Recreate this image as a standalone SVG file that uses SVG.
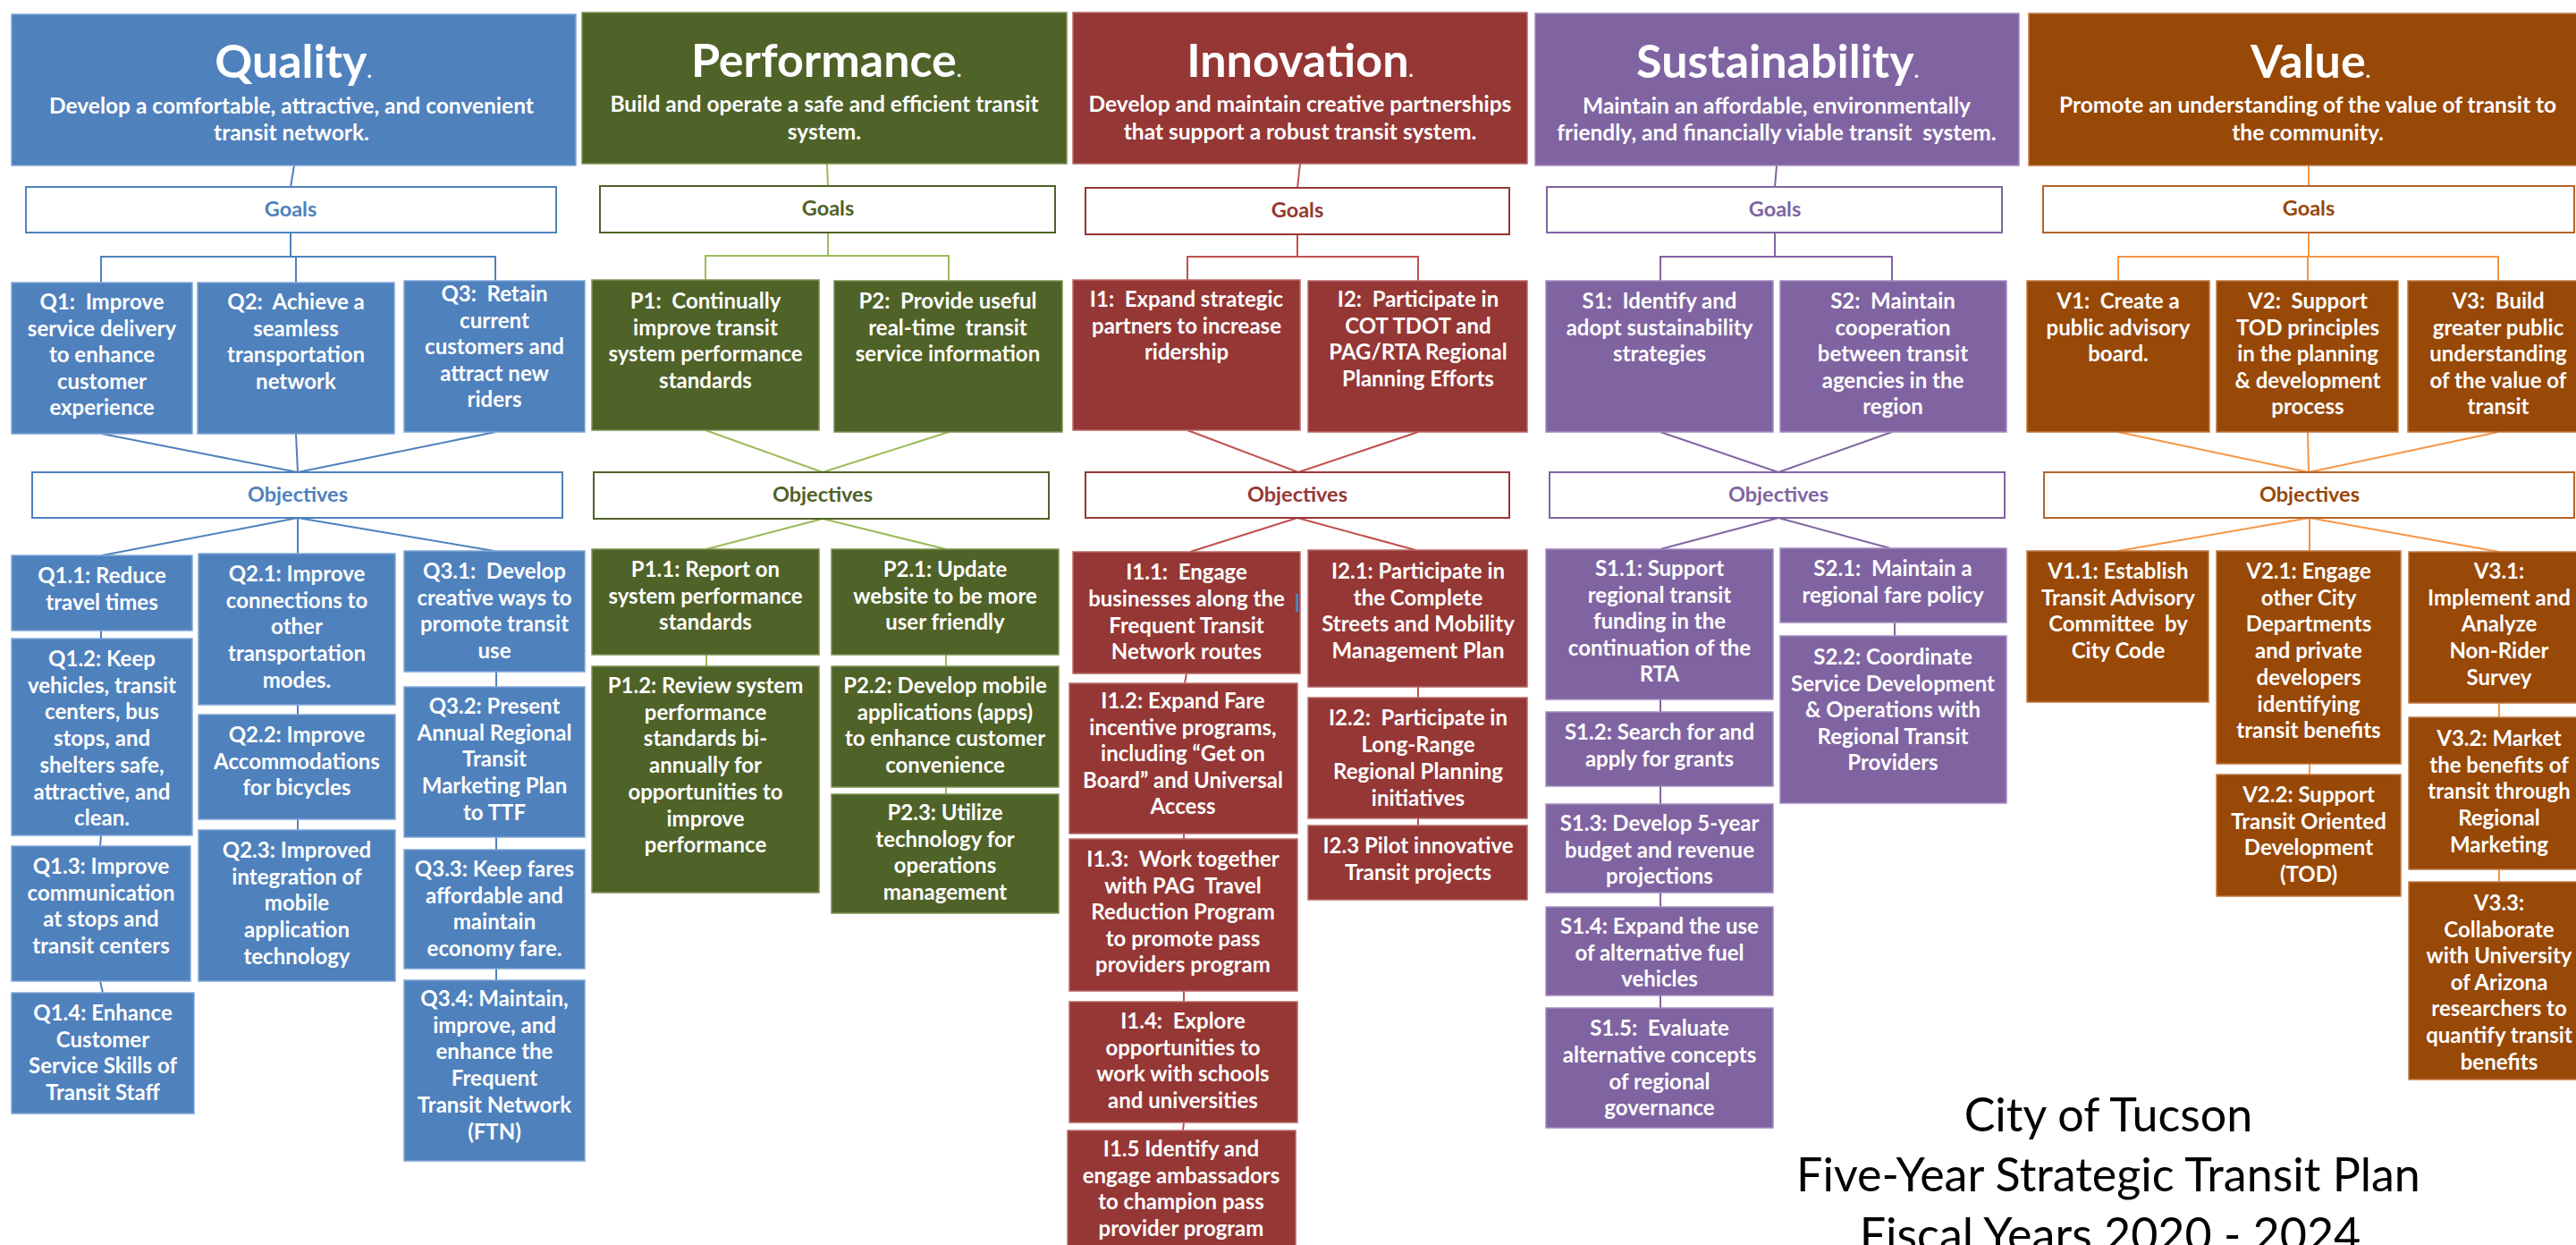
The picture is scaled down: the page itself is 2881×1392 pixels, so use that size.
<svg xmlns="http://www.w3.org/2000/svg" width="2881" height="1392" viewBox="0 0 2881 1392">
<style>
text{font-family:Lato,"Open Sans","Liberation Sans",sans-serif;font-weight:bold;text-anchor:middle}
.ttl{font-size:52px;fill:#fff}
.dot{font-size:22px}
.sub{font-size:24.5px;fill:#fff}
.b{font-size:24px;fill:#fff}
.lbl{font-size:23.5px}
.lw{fill:#fff;stroke-width:2}
.q{fill:#4F81BD;stroke:#7FA6D6;stroke-width:1.5}
.p{fill:#4F6228;stroke:#7E9152;stroke-width:1.5}
.i{fill:#953735;stroke:#B86A68;stroke-width:1.5}
.s{fill:#8064A2;stroke:#A38CC0;stroke-width:1.5}
.v{fill:#984807;stroke:#C07A45;stroke-width:1.5}
.conn path{fill:none;stroke-width:2}
.foot{font-family:Lato,"Liberation Sans",sans-serif;font-weight:normal;font-size:52px;fill:#000}
</style>

<g id="connectors" class="conn">
<g stroke="#4F81BD">
<path d="M329 185 L325 209"/><path d="M325 260 V287"/><path d="M113 316 V287 H554 V316"/><path d="M331 287 V316"/>
<path d="M114 485 L333 528"/><path d="M331 485 L333 528"/><path d="M554 483 L333 528"/>
<path d="M333 579 L114 621"/><path d="M333 579 V619"/><path d="M333 579 L553 616"/>
<path d="M113 705 V714"/><path d="M113 934 L112 946"/><path d="M112 1097 L115 1110"/>
<path d="M333 788 V799"/><path d="M333 916 V928"/>
<path d="M555 751 V768"/><path d="M555 936 V950"/><path d="M555 1083 V1096"/>
</g>
<g stroke="#9BBB59">
<path d="M925 183 L926 208"/><path d="M926 260 V286"/><path d="M789 313 V286 H1061 V314"/>
<path d="M789 481 L920 528"/><path d="M1061 483 L920 528"/>
<path d="M920 580 L790 614"/><path d="M920 580 L1058 614"/>
<path d="M790 732 V745"/><path d="M1058 732 V745"/><path d="M1058 880 V888"/>
</g>
<g stroke="#C0504D">
<path d="M1454 183 L1451 210"/><path d="M1451 262 V287"/><path d="M1328 313 V287 H1586 V314"/>
<path d="M1328 481 L1452 528"/><path d="M1586 483 L1452 528"/>
<path d="M1451 579 L1331 617"/><path d="M1451 579 L1583 615"/>
<path d="M1327 753 L1325 764"/><path d="M1324 932 V938"/><path d="M1324 1108 V1120"/><path d="M1324 1255 L1323 1264"/>
<path d="M1586 768 V780"/><path d="M1586 915 V923"/>
</g>
<g stroke="#8064A2">
<path d="M1987 185 L1985 209"/><path d="M1985 260 V287"/><path d="M1857 314 V287 H2116 V314"/>
<path d="M1857 483 L1989 528"/><path d="M2116 483 L1989 528"/>
<path d="M1989 579 L1857 614"/><path d="M1989 579 L2114 613"/>
<path d="M1857 782 V796"/><path d="M1857 879 V899"/><path d="M1857 998 V1014"/><path d="M1857 1113 V1127"/>
<path d="M2119 696 V711"/>
</g>
<g stroke="#F79646">
<path d="M2582 185 V208"/><path d="M2582 260 V287"/><path d="M2369 314 V287 H2794 V314"/><path d="M2581 287 V314"/>
<path d="M2369 483 L2582 528"/><path d="M2581 483 L2582 528"/><path d="M2794 483 L2582 528"/>
<path d="M2583 579 L2369 616"/><path d="M2583 579 V616"/><path d="M2583 579 L2795 617"/>
<path d="M2583 854 V866"/><path d="M2795 786 V802"/><path d="M2795 972 V986"/>
</g>
</g>

<!-- QUALITY -->
<g id="quality">
<rect class="q" x="13" y="16" width="631" height="169"/>
<text class="ttl" x="328" y="87">Quality<tspan class="dot">.</tspan></text>
<text class="sub" x="326" y="127">Develop a comfortable, attractive, and convenient</text>
<text class="sub" x="326" y="157">transit network.</text>
</g>
<g id="q-goals"><rect class="lw" stroke="#4F81BD" x="29" y="209" width="593" height="51"/><text class="lbl" fill="#4F81BD" x="325" y="242">Goals</text></g>
<g id="q-objectives"><rect class="lw" stroke="#4F81BD" x="36" y="528" width="593" height="51"/><text class="lbl" fill="#4F81BD" x="333" y="561">Objectives</text></g>
<g id="Q1"><rect class="q" x="13" y="316" width="202" height="169"/><text class="b" x="114" y="346"><tspan x="114">Q1:&#160; Improve</tspan><tspan x="114" dy="29.6">service delivery</tspan><tspan x="114" dy="29.6">to enhance</tspan><tspan x="114" dy="29.6">customer</tspan><tspan x="114" dy="29.6">experience</tspan></text></g>
<g id="Q2"><rect class="q" x="221" y="316" width="220" height="169"/><text class="b" x="331" y="346"><tspan x="331">Q2:&#160; Achieve a</tspan><tspan x="331" dy="29.6">seamless</tspan><tspan x="331" dy="29.6">transportation</tspan><tspan x="331" dy="29.6">network</tspan></text></g>
<g id="Q3"><rect class="q" x="452" y="314" width="202" height="169"/><text class="b" x="553" y="337"><tspan x="553">Q3:&#160; Retain</tspan><tspan x="553" dy="29.6">current</tspan><tspan x="553" dy="29.6">customers and</tspan><tspan x="553" dy="29.6">attract new</tspan><tspan x="553" dy="29.6">riders</tspan></text></g>
<g id="Q1.1"><rect class="q" x="13" y="621" width="202" height="84"/><text class="b" x="114" y="652"><tspan x="114">Q1.1: Reduce</tspan><tspan x="114" dy="29.7">travel times</tspan></text></g>
<g id="Q1.2"><rect class="q" x="13" y="714" width="202" height="220"/><text class="b" x="114" y="745"><tspan x="114">Q1.2: Keep</tspan><tspan x="114" dy="29.7">vehicles, transit</tspan><tspan x="114" dy="29.7">centers, bus</tspan><tspan x="114" dy="29.7">stops, and</tspan><tspan x="114" dy="29.7">shelters safe,</tspan><tspan x="114" dy="29.7">attractive, and</tspan><tspan x="114" dy="29.7">clean.</tspan></text></g>
<g id="Q1.3"><rect class="q" x="13" y="946" width="200" height="151"/><text class="b" x="113" y="977"><tspan x="113">Q1.3: Improve</tspan><tspan x="113" dy="29.7">communication</tspan><tspan x="113" dy="29.7">at stops and</tspan><tspan x="113" dy="29.7">transit centers</tspan></text></g>
<g id="Q1.4"><rect class="q" x="13" y="1110" width="204" height="135"/><text class="b" x="115" y="1141"><tspan x="115">Q1.4: Enhance</tspan><tspan x="115" dy="29.7">Customer</tspan><tspan x="115" dy="29.7">Service Skills of</tspan><tspan x="115" dy="29.7">Transit Staff</tspan></text></g>
<g id="Q2.1"><rect class="q" x="222" y="619" width="220" height="169"/><text class="b" x="332" y="650"><tspan x="332">Q2.1: Improve</tspan><tspan x="332" dy="29.7">connections to</tspan><tspan x="332" dy="29.7">other</tspan><tspan x="332" dy="29.7">transportation</tspan><tspan x="332" dy="29.7">modes.</tspan></text></g>
<g id="Q2.2"><rect class="q" x="222" y="799" width="220" height="117"/><text class="b" x="332" y="830"><tspan x="332">Q2.2: Improve</tspan><tspan x="332" dy="29.7">Accommodations</tspan><tspan x="332" dy="29.7">for bicycles</tspan></text></g>
<g id="Q2.3"><rect class="q" x="222" y="928" width="220" height="169"/><text class="b" x="332" y="959"><tspan x="332">Q2.3: Improved</tspan><tspan x="332" dy="29.7">integration of</tspan><tspan x="332" dy="29.7">mobile</tspan><tspan x="332" dy="29.7">application</tspan><tspan x="332" dy="29.7">technology</tspan></text></g>
<g id="Q3.1"><rect class="q" x="452" y="616" width="202" height="135"/><text class="b" x="553" y="647"><tspan x="553">Q3.1:&#160; Develop</tspan><tspan x="553" dy="29.7">creative ways to</tspan><tspan x="553" dy="29.7">promote transit</tspan><tspan x="553" dy="29.7">use</tspan></text></g>
<g id="Q3.2"><rect class="q" x="452" y="768" width="202" height="168"/><text class="b" x="553" y="798"><tspan x="553">Q3.2: Present</tspan><tspan x="553" dy="29.7">Annual Regional</tspan><tspan x="553" dy="29.7">Transit</tspan><tspan x="553" dy="29.7">Marketing Plan</tspan><tspan x="553" dy="29.7">to TTF</tspan></text></g>
<g id="Q3.3"><rect class="q" x="452" y="950" width="202" height="133"/><text class="b" x="553" y="980"><tspan x="553">Q3.3: Keep fares</tspan><tspan x="553" dy="29.7">affordable and</tspan><tspan x="553" dy="29.7">maintain</tspan><tspan x="553" dy="29.7">economy fare.</tspan></text></g>
<g id="Q3.4"><rect class="q" x="452" y="1096" width="202" height="202"/><text class="b" x="553" y="1125"><tspan x="553">Q3.4: Maintain,</tspan><tspan x="553" dy="29.7">improve, and</tspan><tspan x="553" dy="29.7">enhance the</tspan><tspan x="553" dy="29.7">Frequent</tspan><tspan x="553" dy="29.7">Transit Network</tspan><tspan x="553" dy="29.7">(FTN)</tspan></text></g>

<!-- PERFORMANCE -->
<g id="performance">
<rect class="p" x="651" y="14" width="542" height="169"/>
<text class="ttl" x="924" y="86">Performance<tspan class="dot">.</tspan></text>
<text class="sub" x="922" y="125">Build and operate a safe and efficient transit</text>
<text class="sub" x="922" y="156">system.</text>
</g>
<g id="p-goals"><rect class="lw" stroke="#4F6228" x="671" y="208" width="509" height="52"/><text class="lbl" fill="#4F6228" x="926" y="241">Goals</text></g>
<g id="p-objectives"><rect class="lw" stroke="#4F6228" x="664" y="528" width="509" height="52"/><text class="lbl" fill="#4F6228" x="920" y="561">Objectives</text></g>
<g id="P1"><rect class="p" x="662" y="313" width="254" height="168"/><text class="b" x="789" y="345"><tspan x="789">P1:&#160; Continually</tspan><tspan x="789" dy="29.6">improve transit</tspan><tspan x="789" dy="29.6">system performance</tspan><tspan x="789" dy="29.6">standards</tspan></text></g>
<g id="P2"><rect class="p" x="933" y="314" width="255" height="169"/><text class="b" x="1060" y="345"><tspan x="1060">P2:&#160; Provide useful</tspan><tspan x="1060" dy="29.6">real-time&#160; transit</tspan><tspan x="1060" dy="29.6">service information</tspan></text></g>
<g id="P1.1"><rect class="p" x="662" y="614" width="254" height="118"/><text class="b" x="789" y="645"><tspan x="789">P1.1: Report on</tspan><tspan x="789" dy="29.7">system performance</tspan><tspan x="789" dy="29.7">standards</tspan></text></g>
<g id="P1.2"><rect class="p" x="662" y="745" width="254" height="253"/><text class="b" x="789" y="775"><tspan x="789">P1.2: Review system</tspan><tspan x="789" dy="29.7">performance</tspan><tspan x="789" dy="29.7">standards bi-</tspan><tspan x="789" dy="29.7">annually for</tspan><tspan x="789" dy="29.7">opportunities to</tspan><tspan x="789" dy="29.7">improve</tspan><tspan x="789" dy="29.7">performance</tspan></text></g>
<g id="P2.1"><rect class="p" x="930" y="614" width="254" height="118"/><text class="b" x="1057" y="645"><tspan x="1057">P2.1: Update</tspan><tspan x="1057" dy="29.7">website to be more</tspan><tspan x="1057" dy="29.7">user friendly</tspan></text></g>
<g id="P2.2"><rect class="p" x="930" y="745" width="254" height="135"/><text class="b" x="1057" y="775"><tspan x="1057">P2.2: Develop mobile</tspan><tspan x="1057" dy="29.7">applications (apps)</tspan><tspan x="1057" dy="29.7">to enhance customer</tspan><tspan x="1057" dy="29.7">convenience</tspan></text></g>
<g id="P2.3"><rect class="p" x="930" y="888" width="254" height="133"/><text class="b" x="1057" y="917"><tspan x="1057">P2.3: Utilize</tspan><tspan x="1057" dy="29.7">technology for</tspan><tspan x="1057" dy="29.7">operations</tspan><tspan x="1057" dy="29.7">management</tspan></text></g>

<!-- INNOVATION -->
<g id="innovation">
<rect class="i" x="1200" y="14" width="508" height="169"/>
<text class="ttl" x="1454" y="86">Innovation<tspan class="dot">.</tspan></text>
<text class="sub" x="1454" y="125">Develop and maintain creative partnerships</text>
<text class="sub" x="1454" y="156">that support a robust transit system.</text>
</g>
<g id="i-goals"><rect class="lw" stroke="#953735" x="1214" y="210" width="474" height="52"/><text class="lbl" fill="#953735" x="1451" y="243">Goals</text></g>
<g id="i-objectives"><rect class="lw" stroke="#953735" x="1214" y="528" width="474" height="51"/><text class="lbl" fill="#953735" x="1451" y="561">Objectives</text></g>
<g id="I1"><rect class="i" x="1200" y="313" width="254" height="168"/><text class="b" x="1327" y="343"><tspan x="1327">I1:&#160; Expand strategic</tspan><tspan x="1327" dy="29.6">partners to increase</tspan><tspan x="1327" dy="29.6">ridership</tspan></text></g>
<g id="I2"><rect class="i" x="1463" y="314" width="245" height="169"/><text class="b" x="1586" y="343"><tspan x="1586">I2:&#160; Participate in</tspan><tspan x="1586" dy="29.6">COT TDOT and</tspan><tspan x="1586" dy="29.6">PAG/RTA Regional</tspan><tspan x="1586" dy="29.6">Planning Efforts</tspan></text></g>
<g id="I1.1"><rect class="i" x="1200" y="617" width="254" height="136"/><text class="b" x="1327" y="648"><tspan x="1327">I1.1:&#160; Engage</tspan><tspan x="1327" dy="29.8">businesses along the</tspan><tspan x="1327" dy="29.8">Frequent Transit</tspan><tspan x="1327" dy="29.8">Network routes</tspan></text><rect x="1449" y="664" width="3" height="20" fill="#4F81BD"/></g>
<g id="I1.2"><rect class="i" x="1196" y="764" width="255" height="168"/><text class="b" x="1323" y="792"><tspan x="1323">I1.2: Expand Fare</tspan><tspan x="1323" dy="29.6">incentive programs,</tspan><tspan x="1323" dy="29.6">including “Get on</tspan><tspan x="1323" dy="29.6">Board” and Universal</tspan><tspan x="1323" dy="29.6">Access</tspan></text></g>
<g id="I1.3"><rect class="i" x="1196" y="938" width="255" height="170"/><text class="b" x="1323" y="969"><tspan x="1323">I1.3:&#160; Work together</tspan><tspan x="1323" dy="29.6">with PAG&#160; Travel</tspan><tspan x="1323" dy="29.6">Reduction Program</tspan><tspan x="1323" dy="29.6">to promote pass</tspan><tspan x="1323" dy="29.6">providers program</tspan></text></g>
<g id="I1.4"><rect class="i" x="1196" y="1120" width="255" height="135"/><text class="b" x="1323" y="1150"><tspan x="1323">I1.4:&#160; Explore</tspan><tspan x="1323" dy="29.7">opportunities to</tspan><tspan x="1323" dy="29.7">work with schools</tspan><tspan x="1323" dy="29.7">and universities</tspan></text></g>
<g id="I1.5"><rect class="i" x="1194" y="1264" width="255" height="140"/><text class="b" x="1321" y="1293"><tspan x="1321">I1.5 Identify and</tspan><tspan x="1321" dy="29.7">engage ambassadors</tspan><tspan x="1321" dy="29.7">to champion pass</tspan><tspan x="1321" dy="29.7">provider program</tspan></text></g>
<g id="I2.1"><rect class="i" x="1463" y="615" width="245" height="153"/><text class="b" x="1586" y="647"><tspan x="1586">I2.1: Participate in</tspan><tspan x="1586" dy="29.7">the Complete</tspan><tspan x="1586" dy="29.7">Streets and Mobility</tspan><tspan x="1586" dy="29.7">Management Plan</tspan></text></g>
<g id="I2.2"><rect class="i" x="1463" y="780" width="245" height="135"/><text class="b" x="1586" y="811"><tspan x="1586">I2.2:&#160; Participate in</tspan><tspan x="1586" dy="30">Long-Range</tspan><tspan x="1586" dy="30">Regional Planning</tspan><tspan x="1586" dy="30">initiatives</tspan></text></g>
<g id="I2.3"><rect class="i" x="1463" y="923" width="245" height="83"/><text class="b" x="1586" y="954"><tspan x="1586">I2.3 Pilot innovative</tspan><tspan x="1586" dy="30">Transit projects</tspan></text></g>

<!-- SUSTAINABILITY -->
<g id="sustainability">
<rect class="s" x="1717" y="15" width="541" height="170"/>
<text class="ttl" x="1988" y="87">Sustainability<tspan class="dot">.</tspan></text>
<text class="sub" x="1987" y="127">Maintain an affordable, environmentally</text>
<text class="sub" x="1987" y="157">friendly, and financially viable transit&#160; system.</text>
</g>
<g id="s-goals"><rect class="lw" stroke="#8064A2" x="1730" y="209" width="509" height="51"/><text class="lbl" fill="#8064A2" x="1985" y="242">Goals</text></g>
<g id="s-objectives"><rect class="lw" stroke="#8064A2" x="1733" y="528" width="509" height="51"/><text class="lbl" fill="#8064A2" x="1989" y="561">Objectives</text></g>
<g id="S1"><rect class="s" x="1729" y="314" width="254" height="169"/><text class="b" x="1856" y="345"><tspan x="1856">S1:&#160; Identify and</tspan><tspan x="1856" dy="29.6">adopt sustainability</tspan><tspan x="1856" dy="29.6">strategies</tspan></text></g>
<g id="S2"><rect class="s" x="1991" y="314" width="253" height="169"/><text class="b" x="2117" y="345"><tspan x="2117">S2:&#160; Maintain</tspan><tspan x="2117" dy="29.6">cooperation</tspan><tspan x="2117" dy="29.6">between transit</tspan><tspan x="2117" dy="29.6">agencies in the</tspan><tspan x="2117" dy="29.6">region</tspan></text></g>
<g id="S1.1"><rect class="s" x="1729" y="614" width="254" height="168"/><text class="b" x="1856" y="644"><tspan x="1856">S1.1: Support</tspan><tspan x="1856" dy="29.6">regional transit</tspan><tspan x="1856" dy="29.6">funding in the</tspan><tspan x="1856" dy="29.6">continuation of the</tspan><tspan x="1856" dy="29.6">RTA</tspan></text></g>
<g id="S1.2"><rect class="s" x="1729" y="796" width="254" height="83"/><text class="b" x="1856" y="827"><tspan x="1856">S1.2: Search for and</tspan><tspan x="1856" dy="30">apply for grants</tspan></text></g>
<g id="S1.3"><rect class="s" x="1729" y="899" width="254" height="99"/><text class="b" x="1856" y="929"><tspan x="1856">S1.3: Develop 5-year</tspan><tspan x="1856" dy="29.6">budget and revenue</tspan><tspan x="1856" dy="29.6">projections</tspan></text></g>
<g id="S1.4"><rect class="s" x="1729" y="1014" width="254" height="99"/><text class="b" x="1856" y="1044"><tspan x="1856">S1.4: Expand the use</tspan><tspan x="1856" dy="29.6">of alternative fuel</tspan><tspan x="1856" dy="29.6">vehicles</tspan></text></g>
<g id="S1.5"><rect class="s" x="1729" y="1127" width="254" height="134"/><text class="b" x="1856" y="1158"><tspan x="1856">S1.5:&#160; Evaluate</tspan><tspan x="1856" dy="29.8">alternative concepts</tspan><tspan x="1856" dy="29.8">of regional</tspan><tspan x="1856" dy="29.8">governance</tspan></text></g>
<g id="S2.1"><rect class="s" x="1991" y="613" width="253" height="83"/><text class="b" x="2117" y="644"><tspan x="2117">S2.1:&#160; Maintain a</tspan><tspan x="2117" dy="29.6">regional fare policy</tspan></text></g>
<g id="S2.2"><rect class="s" x="1991" y="711" width="253" height="187"/><text class="b" x="2117" y="743"><tspan x="2117">S2.2: Coordinate</tspan><tspan x="2117" dy="29.6">Service Development</tspan><tspan x="2117" dy="29.6">&amp; Operations with</tspan><tspan x="2117" dy="29.6">Regional Transit</tspan><tspan x="2117" dy="29.6">Providers</tspan></text></g>

<!-- VALUE -->
<g id="value">
<rect class="v" x="2269" y="15" width="630" height="170"/>
<text class="ttl" x="2584" y="87">Value<tspan class="dot">.</tspan></text>
<text class="sub" x="2581" y="126">Promote an understanding of the value of transit to</text>
<text class="sub" x="2581" y="157">the community.</text>
</g>
<g id="v-goals"><rect class="lw" stroke="#B5652A" x="2285" y="208" width="594" height="52"/><text class="lbl" fill="#984807" x="2582" y="241">Goals</text></g>
<g id="v-objectives"><rect class="lw" stroke="#B5652A" x="2286" y="528" width="593" height="51"/><text class="lbl" fill="#984807" x="2583" y="561">Objectives</text></g>
<g id="V1"><rect class="v" x="2267" y="314" width="204" height="169"/><text class="b" x="2369" y="345"><tspan x="2369">V1:&#160; Create a</tspan><tspan x="2369" dy="29.6">public advisory</tspan><tspan x="2369" dy="29.6">board.</tspan></text></g>
<g id="V2"><rect class="v" x="2479" y="314" width="203" height="169"/><text class="b" x="2581" y="345"><tspan x="2581">V2:&#160; Support</tspan><tspan x="2581" dy="29.6">TOD principles</tspan><tspan x="2581" dy="29.6">in the planning</tspan><tspan x="2581" dy="29.6">&amp; development</tspan><tspan x="2581" dy="29.6">process</tspan></text></g>
<g id="V3"><rect class="v" x="2693" y="314" width="205" height="169"/><text class="b" x="2794" y="345"><tspan x="2794">V3:&#160; Build</tspan><tspan x="2794" dy="29.6">greater public</tspan><tspan x="2794" dy="29.6">understanding</tspan><tspan x="2794" dy="29.6">of the value of</tspan><tspan x="2794" dy="29.6">transit</tspan></text></g>
<g id="V1.1"><rect class="v" x="2267" y="616" width="203" height="169"/><text class="b" x="2369" y="647"><tspan x="2369">V1.1: Establish</tspan><tspan x="2369" dy="29.7">Transit Advisory</tspan><tspan x="2369" dy="29.7">Committee&#160; by</tspan><tspan x="2369" dy="29.7">City Code</tspan></text></g>
<g id="V2.1"><rect class="v" x="2479" y="616" width="206" height="238"/><text class="b" x="2582" y="647"><tspan x="2582">V2.1: Engage</tspan><tspan x="2582" dy="29.7">other City</tspan><tspan x="2582" dy="29.7">Departments</tspan><tspan x="2582" dy="29.7">and private</tspan><tspan x="2582" dy="29.7">developers</tspan><tspan x="2582" dy="29.7">identifying</tspan><tspan x="2582" dy="29.7">transit benefits</tspan></text></g>
<g id="V2.2"><rect class="v" x="2479" y="866" width="206" height="136"/><text class="b" x="2582" y="897"><tspan x="2582">V2.2: Support</tspan><tspan x="2582" dy="29.7">Transit Oriented</tspan><tspan x="2582" dy="29.7">Development</tspan><tspan x="2582" dy="29.7">(TOD)</tspan></text></g>
<g id="V3.1"><rect class="v" x="2694" y="617" width="205" height="169"/><text class="b" x="2795" y="647"><tspan x="2795">V3.1:</tspan><tspan x="2795" dy="29.7">Implement and</tspan><tspan x="2795" dy="29.7">Analyze</tspan><tspan x="2795" dy="29.7">Non-Rider</tspan><tspan x="2795" dy="29.7">Survey</tspan></text></g>
<g id="V3.2"><rect class="v" x="2694" y="802" width="205" height="170"/><text class="b" x="2795" y="834"><tspan x="2795">V3.2: Market</tspan><tspan x="2795" dy="29.7">the benefits of</tspan><tspan x="2795" dy="29.7">transit through</tspan><tspan x="2795" dy="29.7">Regional</tspan><tspan x="2795" dy="29.7">Marketing</tspan></text></g>
<g id="V3.3"><rect class="v" x="2694" y="986" width="205" height="221"/><text class="b" x="2795" y="1018"><tspan x="2795">V3.3:</tspan><tspan x="2795" dy="29.6">Collaborate</tspan><tspan x="2795" dy="29.6">with University</tspan><tspan x="2795" dy="29.6">of Arizona</tspan><tspan x="2795" dy="29.6">researchers to</tspan><tspan x="2795" dy="29.6">quantify transit</tspan><tspan x="2795" dy="29.6">benefits</tspan></text></g>

<g id="title">
<text class="foot" x="2358" y="1265">City of Tucson</text>
<text class="foot" x="2358" y="1332">Five-Year Strategic Transit Plan</text>
<text class="foot" x="2360" y="1399">Fiscal Years 2020 - 2024</text>
</g>
</svg>
